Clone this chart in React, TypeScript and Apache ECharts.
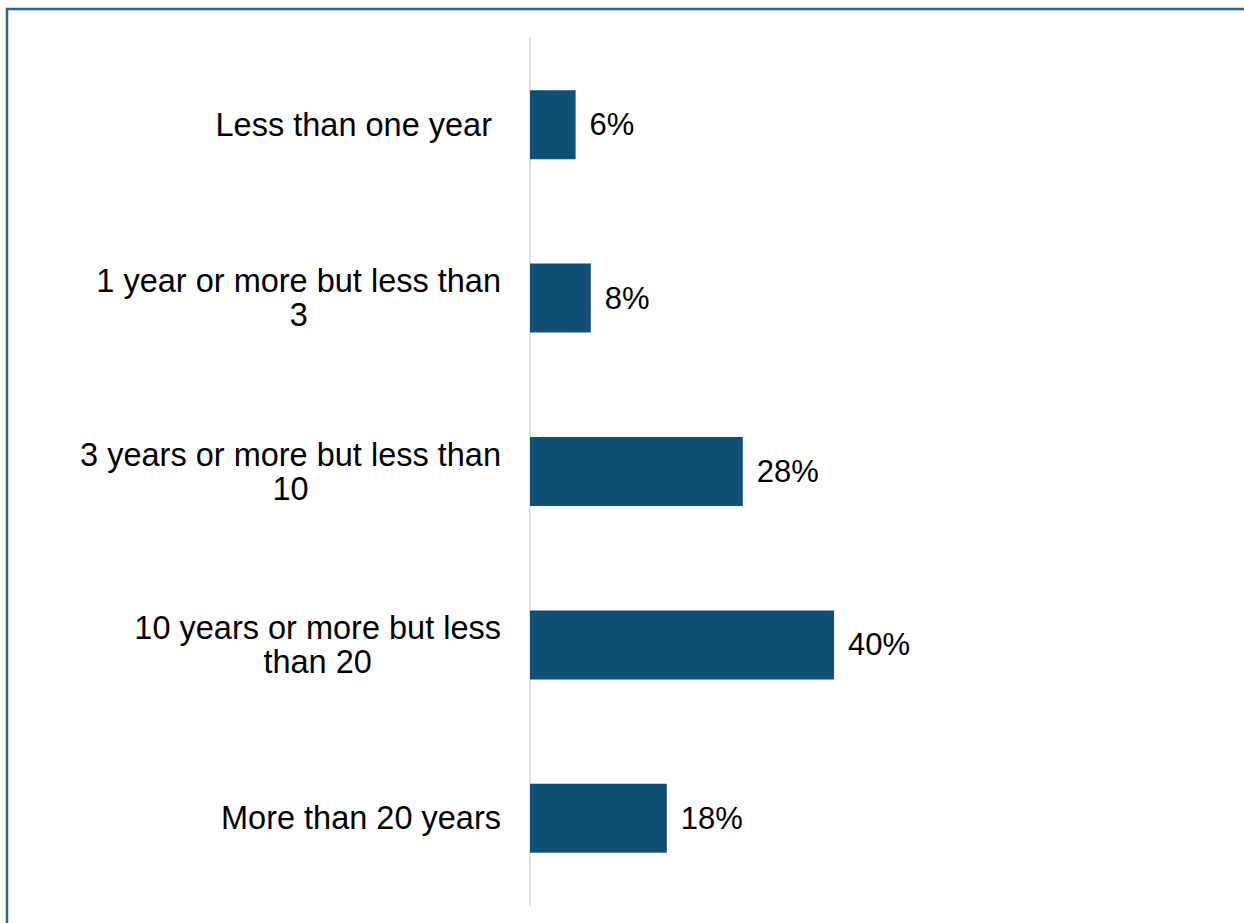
import React, { useEffect, useRef } from "react";
import * as echarts from "echarts";

const categories = [
  "Less than one year ",
  "1 year or more but less than\n3",
  "3 years or more but less than\n10",
  "10 years or more but less\nthan 20",
  "More than 20 years",
];
const values = [6, 8, 28, 40, 18];

const FONT = "Arial, 'Liberation Sans', sans-serif";

export default function App() {
  const ref = useRef<HTMLDivElement>(null);
  useEffect(() => {
    if (!ref.current) return;
    const chart = echarts.init(ref.current, null, { renderer: "svg" });
    chart.setOption({
      animation: false,
      backgroundColor: "#ffffff",
      graphic: [
        {
          type: "rect",
          shape: { x: 7, y: 9, width: 1400, height: 1100 },
          style: { fill: "none", stroke: "#2C6690", lineWidth: 2.5 },
          silent: true,
        },
      ],
      grid: { left: 530, top: 38, height: 867, width: 684 },
      xAxis: {
        type: "value",
        min: 0,
        max: 90,
        show: false,
      },
      yAxis: {
        type: "category",
        inverse: true,
        data: categories,
        axisLine: { show: true, lineStyle: { color: "#D9D9D9", width: 1.5 } },
        axisTick: { show: false },
        splitLine: { show: false },
        axisLabel: {
          margin: 29,
          color: "#000000",
          fontSize: 32.5,
          fontFamily: FONT,
          formatter: (v: string) =>
            v
              .split("\n")
              .map((l) => `{c|${l}}`)
              .join("\n"),
          rich: {
            c: {
              align: "center",
              color: "#000000",
              fontSize: 32.5,
              fontFamily: FONT,
              lineHeight: 34,
            },
          },
        },
      },
      series: [
        {
          type: "bar",
          data: values,
          barWidth: 69,
          itemStyle: { color: "#105076" },
          label: {
            show: true,
            position: "right",
            distance: 14,
            formatter: "{c}%",
            color: "#000000",
            fontSize: 31,
            fontFamily: FONT,
          },
        },
      ],
    });
    return () => chart.dispose();
  }, []);
  return (
    <div
      ref={ref}
      style={{ position: "absolute", left: 0, top: 0, width: 1244, height: 923 }}
    />
  );
}
